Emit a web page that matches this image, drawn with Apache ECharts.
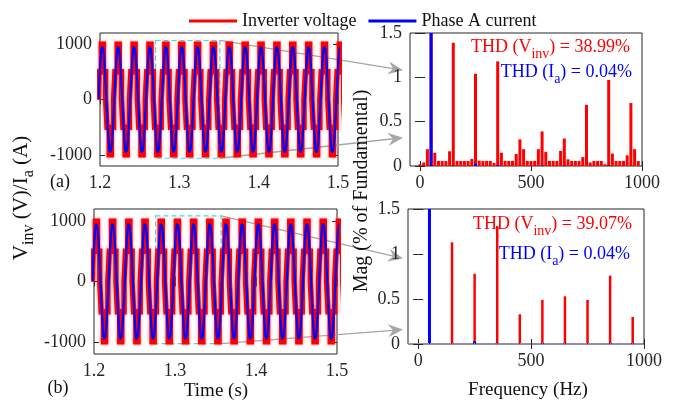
<!DOCTYPE html>
<html><head><meta charset="utf-8">
<script src="https://cdn.jsdelivr.net/npm/echarts@6/dist/echarts.min.js"></script>
<style>html,body{margin:0;padding:0;background:#fff}#c{width:678px;height:403px}</style>
</head><body><div id="c"></div>
<script>
// ================= DATA =================
const timeRange = [1.2, 1.5];
const fundamentalPeriod = 0.02;      // s (50 Hz)
const firstRisingZero = 1.198;       // s, rising zero crossing before 1.2 s
const cycleCount = 16;
// inverter voltage staircase over one fundamental period (deg, V)
const vinvStepAngles = [0, 16, 66, 114, 164, 196, 246, 294, 344, 360];
const vinvStepLevels = [0, 500, 1000, 500, 0, -500, -1000, -500, 0];
// phase A current samples over one period, every 10 deg (A)
const iaCycleSamples = [0, 168, 332, 485, 623, 743, 840, 911, 955, 970, 955, 911, 840, 743, 623, 485, 332, 168,
  0, -168, -332, -485, -623, -743, -840, -911, -955, -970, -955, -911, -840, -743, -623, -485, -332, -168, 0];

const timeTicks = [1.2, 1.3, 1.4, 1.5];
const waveTicks = [-1000, 0, 1000];
const freqTicks = [0, 500, 1000];
const magTicks = [0, 0.5, 1, 1.5];

// (a) spectrum: bins every 50/3 Hz, k = 0..59 (% of fundamental)
const specABinHz = 50 / 3;
const specAVinv = [0.02, 0.04, 0.19, 100, 0.15, 0.057, 0.057, 0.057, 0.166, 1.39,
  0.057, 0.057, 0.057, 0.057, 0.08, 1.04, 0.06, 0.057, 0.057, 0.057,
  0.035, 1.18, 0.15, 0.057, 0.057, 0.057, 0.136, 0.30, 0.19, 0.057,
  0.057, 0.057, 0.19, 0.39, 0.16, 0.057, 0.057, 0.057, 0.17, 0.31,
  0.075, 0.057, 0.057, 0.057, 0.10, 0.69, 0.04, 0.057, 0.057, 0.057,
  0.02, 0.97, 0.14, 0.057, 0.057, 0.057, 0.12, 0.71, 0.19, 0.055];
const specAIaFreq = [50, 150, 250, 350, 550, 650, 850];
const specAIa = [100, 0.006, 0.025, 0.01, 0.006, 0.006, 0.006];

// (b) spectrum: odd harmonics (% of fundamental)
const specBFreq = [50, 150, 250, 350, 450, 550, 650, 750, 850, 950];
const specBVinv = [100, 1.13, 0.78, 1.31, 0.33, 0.49, 0.53, 0.49, 0.76, 0.30];
const specBIa = [100, 0.005, 0.03, 0.01, 0.005, 0.008, 0.008, 0.005, 0.01, 0.008];

// zoom windows (t0, t1, vTop, vBottom) and arrow targets on spectrum axis (mag values)
const zoomWinA = [1.27, 1.351, 1065, -1060];
const zoomWinB = [1.276, 1.357, 1087, -1028];
const arrowTargetsA = [1.08, 0.32];
const arrowTargetsB = [0.95, 0.16];

const thdA = ['38.99%', '0.04%'];
const thdB = ['39.07%', '0.04%'];

// ================= BUILD =================
const FF = 'Liberation Serif';
const INK = '#262626';
const RED = '#ff0000', BLUE = '#0000ff';

function buildVinv() {
  const out = [];
  for (let c = 0; c < cycleCount; c++) {
    for (let i = 0; i < vinvStepLevels.length; i++) {
      const t1 = firstRisingZero + (c + vinvStepAngles[i] / 360) * fundamentalPeriod;
      const t2 = firstRisingZero + (c + vinvStepAngles[i + 1] / 360) * fundamentalPeriod;
      out.push([t1, vinvStepLevels[i]], [t2, vinvStepLevels[i]]);
    }
  }
  return out;
}
function buildIa() {
  const out = [];
  const n = iaCycleSamples.length - 1;
  for (let c = 0; c < cycleCount; c++) {
    for (let i = 0; i < n; i++) {
      out.push([firstRisingZero + (c + i / n) * fundamentalPeriod, iaCycleSamples[i]]);
    }
  }
  return out;
}
const vinvData = buildVinv();
const iaData = buildIa();
const specAV = specAVinv.map((v, k) => [k * specABinHz, v]);
const specAI = specAIaFreq.map((f, i) => [f, specAIa[i]]);
const specBV = specBFreq.map((f, i) => [f, specBVinv[i]]);
const specBI = specBFreq.map((f, i) => [f, specBIa[i]]);

const fmtTime = v => Number(v).toFixed(1);
const fmtPlain = v => String(Math.round(v * 10) / 10);

function axis(grid, min, max, ticks, fmt, pos) {
  const lab = (pos === 'bottom' || pos === 'left');
  return {
    type: 'value', gridIndex: grid, min: min, max: max, position: pos,
    axisLine: { show: false }, splitLine: { show: false },
    axisTick: { show: true, inside: true, length: 5, lineStyle: { color: INK, width: 1 }, customValues: ticks },
    axisLabel: { show: lab, customValues: ticks, formatter: fmt, margin: 8, fontFamily: FF, fontSize: 18, color: INK }
  };
}

const grids = [
  { left: 100, top: 33, width: 238, height: 133 },
  { left: 410, top: 33, width: 232, height: 133 },
  { left: 94, top: 209, width: 243, height: 145 },
  { left: 408, top: 209, width: 236, height: 135 }
].map(g => Object.assign(g, { show: true, borderColor: INK, borderWidth: 1, backgroundColor: 'transparent', containLabel: false }));

const xAxes = [
  axis(0, timeRange[0], timeRange[1], timeTicks, fmtTime, 'bottom'),
  axis(0, timeRange[0], timeRange[1], timeTicks, fmtTime, 'top'),
  axis(1, -45, 1000, freqTicks, fmtPlain, 'bottom'),
  axis(1, -45, 1000, freqTicks, fmtPlain, 'top'),
  axis(2, timeRange[0], timeRange[1], timeTicks, fmtTime, 'bottom'),
  axis(2, timeRange[0], timeRange[1], timeTicks, fmtTime, 'top'),
  axis(3, -45, 1000, freqTicks, fmtPlain, 'bottom'),
  axis(3, -45, 1000, freqTicks, fmtPlain, 'top')
];
const yAxes = [
  axis(0, -1200, 1200, waveTicks, fmtPlain, 'left'),
  axis(0, -1200, 1200, waveTicks, fmtPlain, 'right'),
  axis(1, 0, 1.5, magTicks, fmtPlain, 'left'),
  axis(1, 0, 1.5, magTicks, fmtPlain, 'right'),
  axis(2, -1200, 1200, waveTicks, fmtPlain, 'left'),
  axis(2, -1200, 1200, waveTicks, fmtPlain, 'right'),
  axis(3, 0, 1.5, magTicks, fmtPlain, 'left'),
  axis(3, 0, 1.5, magTicks, fmtPlain, 'right')
];

function zoomArea(w) {
  return {
    silent: true, label: { show: false },
    itemStyle: { color: 'rgba(0,0,0,0)', borderColor: '#40e0e8', borderWidth: 1.2, borderType: [5, 3] },
    data: [[{ coord: [w[0], w[2]] }, { coord: [w[1], w[3]] }]]
  };
}
function vLine(xi, yi, data, win) {
  const s = { type: 'line', name: 'Inverter voltage', xAxisIndex: xi, yAxisIndex: yi, data: data,
    showSymbol: false, symbol: 'none', color: RED, clip: true,
    lineStyle: { color: RED, width: 5.4, join: 'miter', cap: 'butt', shadowBlur: 3, shadowColor: 'rgba(255,60,60,0.6)' }, z: 2 };
  if (win) s.markArea = zoomArea(win);
  return s;
}
function iLine(xi, yi, data) {
  return { type: 'line', name: 'Phase A current', xAxisIndex: xi, yAxisIndex: yi, data: data,
    showSymbol: false, symbol: 'none', color: BLUE, clip: true, lineStyle: { color: BLUE, width: 2.2 }, z: 3 };
}
function bar(name, xi, yi, data, color, w, extra) {
  return Object.assign({ type: 'bar', name: name, xAxisIndex: xi, yAxisIndex: yi, data: data, barWidth: w,
    color: color, itemStyle: { color: color }, clip: true, silent: true }, extra || {});
}

const series = [
  vLine(0, 0, vinvData, zoomWinA),
  iLine(0, 0, iaData),
  bar('Inverter voltage', 2, 2, specAV, RED, 3),
  bar('Phase A current', 3, 2, specAI, BLUE, 3),
  vLine(4, 4, vinvData, zoomWinB),
  iLine(4, 4, iaData),
  bar('Inverter voltage', 6, 6, specBV, RED, 2.5, {
    markLine: { silent: true, symbol: 'none', label: { show: false },
      lineStyle: { color: '#a080c8', type: 'dotted', width: 1 }, data: [{ yAxis: 0.006 }] } }),
  bar('Phase A current', 7, 6, specBI, BLUE, 3)
];

const chart = echarts.init(document.getElementById('c'), null, { renderer: 'canvas' });
chart.setOption({
  animation: false,
  backgroundColor: '#fff',
  legend: {
    data: ['Inverter voltage', 'Phase A current'], left: 184, top: 7, icon: 'rect',
    itemWidth: 48, itemHeight: 3, itemGap: 12, selectedMode: false,
    textStyle: { fontFamily: FF, fontSize: 18, color: '#111' }
  },
  grid: grids, xAxis: xAxes, yAxis: yAxes, series: series
});

// ---------- annotations ----------
function richStyle(color, size, subSize, lh) {
  return {
    n: { fontFamily: FF, fontSize: size, fill: color, lineHeight: size, verticalAlign: 'top' },
    s: { fontFamily: FF, fontSize: subSize, fill: color, lineHeight: lh, verticalAlign: 'middle' }
  };
}
function thdText(x, yTop, text, color) {
  return { type: 'text', x: x, y: yTop, silent: true,
    style: { text: text, fill: color, rich: richStyle(color, 18, 14, 32), align: 'right', verticalAlign: 'top' } };
}
function plainText(x, y, text, size, extra) {
  return Object.assign({ type: 'text', x: x, y: y, silent: true,
    style: { text: text, fontFamily: FF, fontSize: size, fill: '#111', align: 'center', verticalAlign: 'middle' } }, extra || {});
}
function arrow(p0, p1) {
  const dx = p1[0] - p0[0], dy = p1[1] - p0[1];
  const L = Math.hypot(dx, dy), ux = dx / L, uy = dy / L, px = -uy, py = ux;
  const len = 15, hw = 6.5, notch = 10;
  const back = [p1[0] - ux * len, p1[1] - uy * len];
  const nb = [p1[0] - ux * notch, p1[1] - uy * notch];
  return [
    { type: 'line', silent: true, shape: { x1: p0[0], y1: p0[1], x2: nb[0], y2: nb[1] },
      style: { stroke: '#a6a6a6', lineWidth: 1.3 } },
    { type: 'polygon', silent: true, shape: { points: [p1, [back[0] + px * hw, back[1] + py * hw], nb, [back[0] - px * hw, back[1] - py * hw]] },
      style: { fill: '#a6a6a6' } }
  ];
}
function pix(xi, yi, pt) { return chart.convertToPixel({ xAxisIndex: xi, yAxisIndex: yi }, pt); }

const gfx = [];
{
  const c1 = pix(0, 0, [zoomWinA[1], zoomWinA[2]]);
  const c2 = pix(0, 0, [zoomWinA[1], zoomWinA[3]]);
  const t1 = pix(2, 2, [-45, arrowTargetsA[0]]);
  const t2 = pix(2, 2, [-45, arrowTargetsA[1]]);
  gfx.push(...arrow(c1, [t1[0] - 7, t1[1]]), ...arrow(c2, [t2[0] - 7, t2[1]]));
}
{
  const c1 = pix(4, 4, [zoomWinB[1], zoomWinB[2]]);
  const c2 = pix(4, 4, [zoomWinB[1], zoomWinB[3]]);
  const t1 = pix(6, 6, [-45, arrowTargetsB[0]]);
  const t2 = pix(6, 6, [-45, arrowTargetsB[1]]);
  gfx.push(...arrow(c1, [t1[0] - 5, t1[1]]), ...arrow(c2, [t2[0] - 5, t2[1]]));
}
gfx.push(
  thdText(630, 38, '{n|THD (V}{s|inv}{n|) = ' + thdA[0] + '}', RED),
  thdText(632, 63, '{n|THD (I}{s|a}{n|) = ' + thdA[1] + '}', BLUE),
  thdText(632, 215, '{n|THD (V}{s|inv}{n|) = ' + thdB[0] + '}', RED),
  thdText(630, 245, '{n|THD (I}{s|a}{n|) = ' + thdB[1] + '}', BLUE),
  plainText(60, 182, '(a)', 18),
  plainText(58, 388, '(b)', 18),
  plainText(216, 391, 'Time (s)', 19),
  plainText(528, 390, 'Frequency (Hz)', 19),
  plainText(362, 191, 'Mag (% of Fundamental)', 20, { rotation: Math.PI / 2 }),
  { type: 'text', x: 29, y: 198, rotation: Math.PI / 2, silent: true,
    style: { text: '{n|V}{s|inv}{n| (V)/I}{s|a}{n| (A)}', fill: '#111', rich: richStyle('#111', 21, 16, 36), align: 'center', verticalAlign: 'middle' } }
);
chart.setOption({ graphic: gfx });
</script></body></html>
